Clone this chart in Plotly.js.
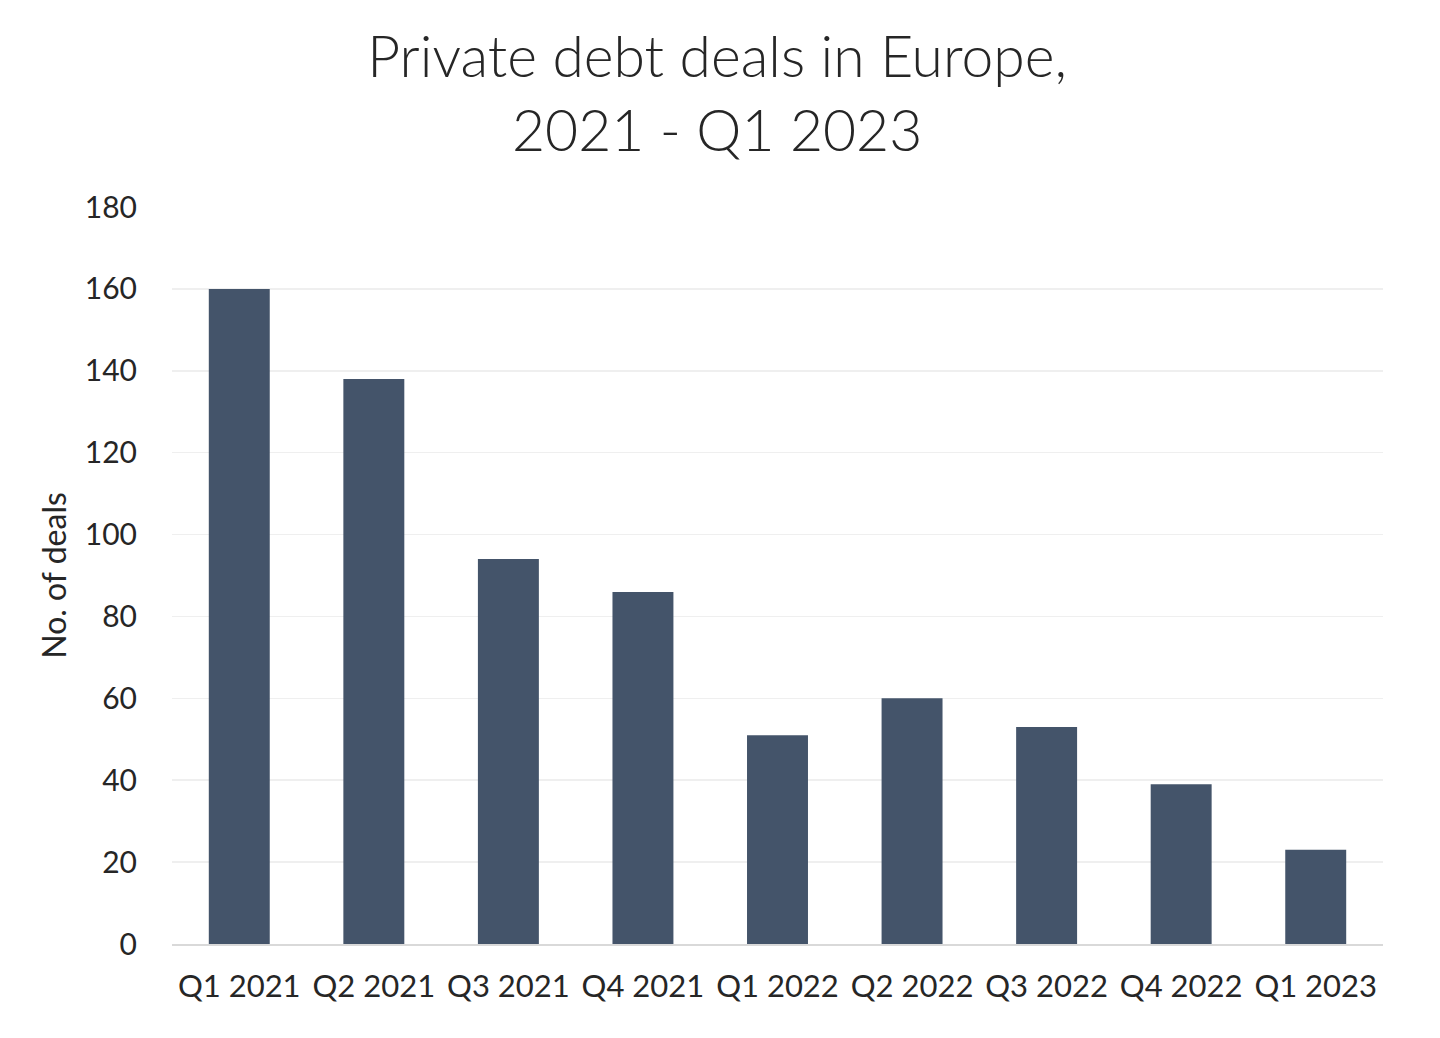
<!DOCTYPE html>
<html><head><meta charset="utf-8">
<script src="https://cdn.plot.ly/plotly-3.0.1.min.js"></script>
<style>html,body{margin:0;padding:0;background:#fff}#chart{width:1440px;height:1038px}</style>
</head><body><div id="chart"></div>
<script>
const categories = ["Q1 2021","Q2 2021","Q3 2021","Q4 2021","Q1 2022","Q2 2022","Q3 2022","Q4 2022","Q1 2023"];
const deals = [160,138,94,86,51,60,53,39,23];
const yTicks = [0,20,40,60,80,100,120,140,160,180];

const trace = {
  type: 'bar', x: categories, y: deals,
  marker: {color: '#44546a', line: {width: 0}},
  hoverinfo: 'x+y'
};
const layout = {
  width: 1440, height: 1038,
  margin: {l: 172, r: 57, t: 207, b: 94},
  paper_bgcolor: '#fff', plot_bgcolor: '#fff',
  font: {family: 'Lato, "Noto Sans", sans-serif', color: '#262626'},
  title: {text: 'Private debt deals in Europe,<br>2021 - Q1 2023', font: {size: 57, color: '#262626', weight: 300},
          x: 0.498, xanchor: 'center', y: 0.926, yanchor: 'middle'},
  bargap: 0.547,
  showlegend: false,
  xaxis: {type: 'category', tickfont: {size: 31}, showline: true, linecolor: '#d9d9d9', linewidth: 2,
          ticks: '', ticklabelstandoff: 14, showgrid: false, zeroline: false},
  yaxis: {range: [0, 180], tickvals: yTicks, ticktext: yTicks.map(String), tickfont: {size: 30},
          gridcolor: '#efefef', gridwidth: 1.5, zeroline: false, showline: false, ticks: '',
          ticklabelstandoff: 34,
          title: {text: 'No. of deals', font: {size: 32}, standoff: 8}}
};
Plotly.newPlot('chart', [trace], layout, {displayModeBar: false, staticPlot: true});
</script></body></html>
